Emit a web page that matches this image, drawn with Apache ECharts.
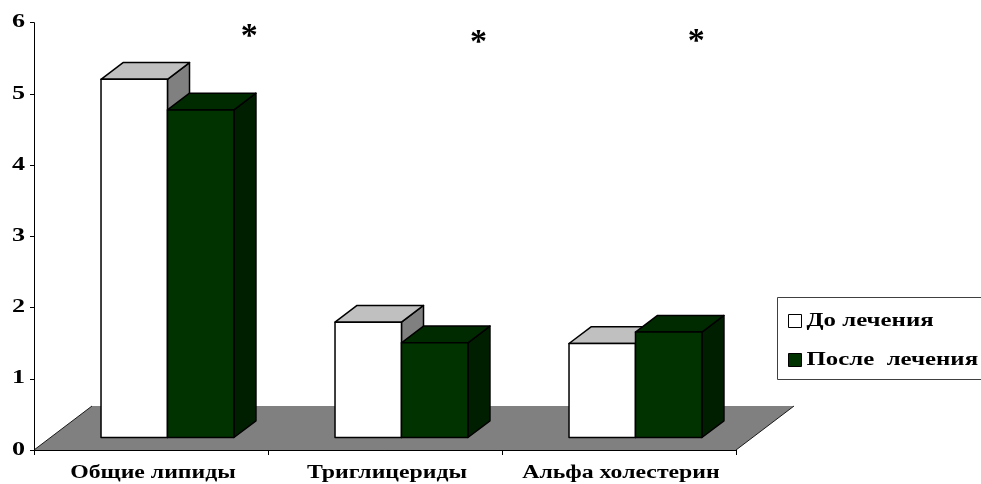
<!DOCTYPE html>
<html>
<head>
<meta charset="utf-8">
<script src="https://cdn.jsdelivr.net/npm/echarts@6/dist/echarts.min.js"></script>
<style>
  html, body { margin: 0; padding: 0; background: #ffffff; }
  #chart { width: 981px; height: 484px; }
</style>
</head>
<body>
<div id="chart"></div>
<script>
// Lipid profile before / after treatment
const categories = ['Общие липиды', 'Триглицериды', 'Альфа холестерин'];
const seriesNames = ['До лечения', 'После  лечения'];
const beforeValues = [5.03, 1.62, 1.32];
const afterValues = [4.6, 1.33, 1.48];
const significance = ['*', '*', '*'];
const yTicks = [0, 1, 2, 3, 4, 5, 6];
const yMin = 0, yMax = 6, yStep = 1;

// Look of the old-style 3D column chart
const FONT = '"Liberation Serif", "Times New Roman", serif';
const CAT_STRETCH = 1.32;        // wide-set lettering under the axis
const LEGEND_STRETCH = 1.38;
const TICK_STRETCH = 1.45;
const FLOOR_DX = 58, FLOOR_DY = -44;   // oblique depth of the floor
const BAR_FRONT = 0.284;         // bar fronts sit this far into the floor
const BAR_DEPTH = 0.38;          // bar depth as a share of the floor depth
const BAR_WIDTH = 0.284;         // bar width as a share of the category band
const STAR_POS = [[0.42, 5.8], [0.40, 5.71], [0.33, 5.72]]; // asterisk anchor (band offset, value)

const faces = [
  { front: '#ffffff', top: '#c0c0c0', side: '#808080' },
  { front: '#003300', top: '#002b00', side: '#001f00' }
];

function barRenderer(idx) {
  return function (params, api) {
    const cat = api.value(0), val = api.value(1);
    const base = api.coord([cat, 0]);
    const top = api.coord([cat, val]);
    const band = api.size([1, 0])[0];
    const w = band * BAR_WIDTH;
    const ox = FLOOR_DX * BAR_FRONT, oy = FLOOR_DY * BAR_FRONT;
    const bx = FLOOR_DX * BAR_DEPTH, by = FLOOR_DY * BAR_DEPTH;
    const cx = base[0] + ox;
    const x0 = idx === 0 ? cx - w : cx;
    const x1 = x0 + w;
    const yb = base[1] + oy, yt = top[1] + oy;
    const c = faces[idx];
    const edge = { stroke: '#000000', lineWidth: 1.5, lineJoin: 'round' };
    return {
      type: 'group',
      children: [
        { type: 'polygon', shape: { points: [[x1, yt], [x1, yb], [x1 + bx, yb + by], [x1 + bx, yt + by]] },
          style: Object.assign({ fill: c.side }, edge) },
        { type: 'polygon', shape: { points: [[x0, yt], [x1, yt], [x1 + bx, yt + by], [x0 + bx, yt + by]] },
          style: Object.assign({ fill: c.top }, edge) },
        { type: 'rect', shape: { x: x0, y: yt, width: w, height: yb - yt },
          style: Object.assign({ fill: c.front }, edge) }
      ]
    };
  };
}

function floorRenderer(params) {
  const cs = params.coordSys;
  const yb = cs.y + cs.height;
  const xl = cs.x, xr = cs.x + cs.width;
  return {
    type: 'group',
    children: [
      { type: 'polygon',
        shape: { points: [[xl, yb], [xr, yb], [xr + FLOOR_DX, yb + FLOOR_DY], [xl + FLOOR_DX, yb + FLOOR_DY]] },
        style: { fill: '#808080' } },
      { type: 'line', shape: { x1: xl, y1: yb, x2: xl + FLOOR_DX, y2: yb + FLOOR_DY },
        style: { stroke: '#1a1a1a', lineWidth: 1 } },
      { type: 'line', shape: { x1: xr, y1: yb, x2: xr + FLOOR_DX, y2: yb + FLOOR_DY },
        style: { stroke: '#1a1a1a', lineWidth: 1 } }
    ]
  };
}

function labelRenderer(params, api) {
  const i = api.value(0);
  const base = api.coord([i, 0]);
  const band = api.size([1, 0])[0];
  const star = api.coord([i, STAR_POS[i][1]]);
  return {
    type: 'group',
    children: [
      { type: 'text', x: base[0] + 2, y: base[1] + 23, scaleX: CAT_STRETCH,
        style: { text: categories[i], fill: '#000', align: 'center', verticalAlign: 'middle',
                 fontFamily: FONT, fontWeight: 'bold', fontSize: 18 } },
      { type: 'text', x: star[0] + band * STAR_POS[i][0], y: star[1],
        style: { text: significance[i], fill: '#000', align: 'center', verticalAlign: 'middle',
                 fontFamily: FONT, fontWeight: 'bold', fontSize: 34 } }
    ]
  };
}

function tickLabelRenderer(params, api) {
  const v = api.value(1);
  const p = api.coord([0, v]);
  const left = params.coordSys.x;
  return {
    type: 'text', x: left - 9, y: p[1], scaleX: TICK_STRETCH,
    style: { text: String(v), fill: '#000', align: 'right', verticalAlign: 'middle',
             fontFamily: FONT, fontWeight: 'bold', fontSize: 18 }
  };
}

const chart = echarts.init(document.getElementById('chart'), null, { renderer: 'canvas' });

chart.setOption({
  animation: false,
  backgroundColor: '#ffffff',
  grid: { left: 34, right: 245, top: 22.7, bottom: 34, containLabel: false },
  xAxis: {
    type: 'category',
    data: categories,
    z: 3,
    axisLine: { lineStyle: { color: '#000', width: 1 } },
    axisTick: { show: true, length: 5, lineStyle: { color: '#000' } },
    axisLabel: { show: false },
    splitLine: { show: false }
  },
  yAxis: {
    type: 'value',
    min: yMin, max: yMax, interval: yStep,
    z: 3,
    axisLine: { show: true, lineStyle: { color: '#000', width: 1 } },
    axisTick: { show: true, length: 4, lineStyle: { color: '#000' } },
    axisLabel: { show: false },
    splitLine: { show: false }
  },
  series: [
    { type: 'custom', name: 'floor', z: 1, silent: true, renderItem: floorRenderer, data: [[0, 0]] },
    { type: 'custom', name: seriesNames[0], z: 2, renderItem: barRenderer(0),
      data: beforeValues.map((v, i) => [i, v]), encode: { x: 0, y: 1 } },
    { type: 'custom', name: seriesNames[1], z: 2, renderItem: barRenderer(1),
      data: afterValues.map((v, i) => [i, v]), encode: { x: 0, y: 1 } },
    { type: 'custom', name: 'labels', z: 4, silent: true, renderItem: labelRenderer,
      data: categories.map((c, i) => [i, 0]), encode: { x: 0, y: 1 } },
    { type: 'custom', name: 'ticks', z: 4, silent: true, clip: false, renderItem: tickLabelRenderer,
      data: yTicks.map(v => [0, v]), encode: { x: 0, y: 1 } }
  ],
  graphic: [
    {
      type: 'group', left: 777, top: 297, silent: true,
      children: [
        { type: 'rect', shape: { x: 0, y: 0, width: 215, height: 82 },
          style: { fill: '#ffffff', stroke: '#404040', lineWidth: 1 } },
        { type: 'rect', shape: { x: 11, y: 17, width: 13, height: 13 },
          style: { fill: faces[0].front, stroke: '#000', lineWidth: 1 } },
        { type: 'text', x: 29, y: 24, scaleX: LEGEND_STRETCH,
          style: { text: seriesNames[0], fill: '#000', verticalAlign: 'middle',
                   fontFamily: FONT, fontWeight: 'bold', fontSize: 18 } },
        { type: 'rect', shape: { x: 11, y: 56, width: 13, height: 13 },
          style: { fill: faces[1].front, stroke: '#000', lineWidth: 1 } },
        { type: 'text', x: 29, y: 63, scaleX: LEGEND_STRETCH,
          style: { text: seriesNames[1], fill: '#000', verticalAlign: 'middle',
                   fontFamily: FONT, fontWeight: 'bold', fontSize: 18 } }
      ]
    }
  ]
});
</script>
</body>
</html>
